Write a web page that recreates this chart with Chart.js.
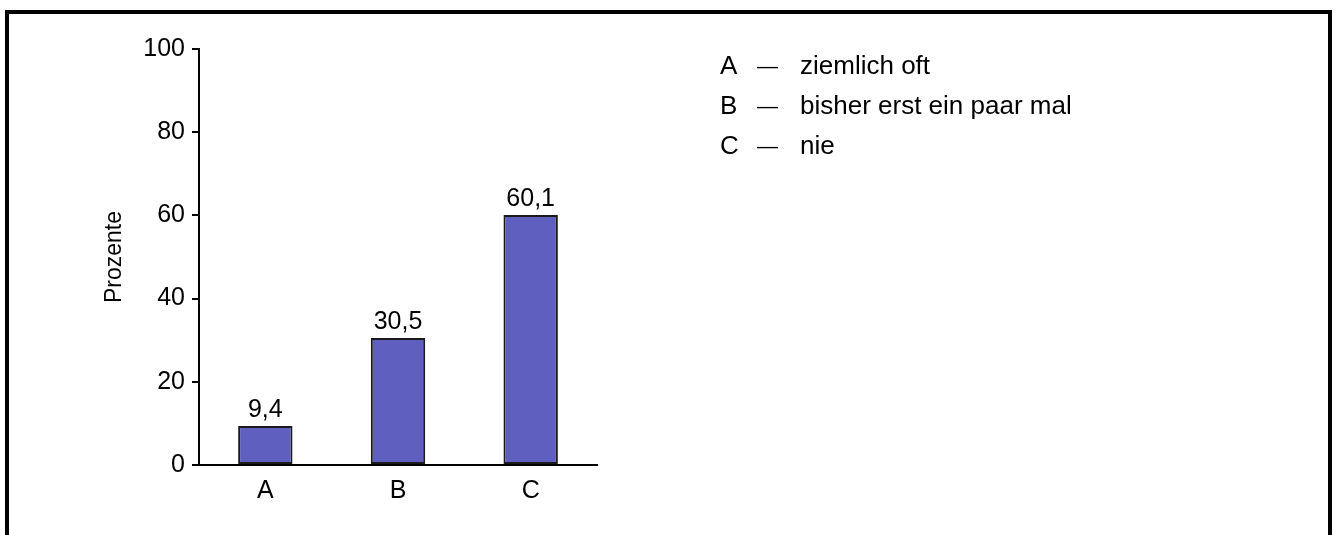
<!DOCTYPE html>
<html>
<head>
<meta charset="utf-8">
<script src="https://cdn.jsdelivr.net/npm/chart.js@4.4.1/dist/chart.umd.min.js"></script>
<style>
  html, body { margin: 0; padding: 0; background: #fff; }
  body { width: 1336px; height: 535px; position: relative; overflow: hidden; }
  #frame { position: absolute; left: 5px; top: 10px; width: 1319px; height: 540px; border: 4px solid #000; }
  #wrap { position: absolute; left: 0; top: 0; width: 1336px; height: 535px; }
</style>
</head>
<body>
<div id="frame"></div>
<div id="wrap"><canvas id="chart"></canvas></div>
<script>
const categories = ['A', 'B', 'C'];
const percentages = [9.4, 30.5, 60.1];
const legendTexts = ['ziemlich oft', 'bisher erst ein paar mal', 'nie'];
const yTicks = [0, 20, 40, 60, 80, 100];

const FONT = 'Liberation Sans, Arial, Helvetica, sans-serif';
Chart.defaults.font.family = FONT;
Chart.defaults.color = '#000';

const fmt = v => String(v).replace('.', ',');

// Werte über den Balken
const valueLabels = {
    id: 'valueLabels',
    afterDatasetsDraw(chart) {
        const ctx = chart.ctx;
        const meta = chart.getDatasetMeta(0);
        ctx.save();
        ctx.font = '25px ' + FONT;
        ctx.fillStyle = '#000';
        ctx.textAlign = 'center';
        ctx.textBaseline = 'alphabetic';
        meta.data.forEach((bar, i) => {
            ctx.fillText(fmt(percentages[i]), bar.x, bar.y - 9);
        });
        ctx.restore();
    }
};

// Legende rechts: Buchstabe — Beschreibung
const sideLegend = {
    id: 'sideLegend',
    afterDraw(chart) {
        const ctx = chart.ctx;
        ctx.save();
        ctx.fillStyle = '#000';
        ctx.textBaseline = 'alphabetic';
        categories.forEach((c, i) => {
            const y = 74 + i * 40;
            ctx.font = '26px ' + FONT;
            ctx.fillText(c, 720, y);
            ctx.fillText(legendTexts[i], 800, y);
            ctx.font = '21px ' + FONT;
            ctx.fillText('\u2014', 757, y - 1);
        });
        ctx.restore();
    }
};

new Chart(document.getElementById('chart'), {
    type: 'bar',
    data: {
        labels: categories,
        datasets: [{
            data: percentages,
            backgroundColor: '#5f5fbf',
            borderColor: '#1a1a1a',
            borderWidth: 2,
            borderSkipped: false,
            barPercentage: 0.41,
            categoryPercentage: 1
        }]
    },
    options: {
        responsive: true, maintainAspectRatio: false, animation: false,
        layout: { padding: { left: 0, top: 49, right: 739, bottom: 0 } },
        plugins: { legend: { display: false }, tooltip: { enabled: false } },
        scales: {
            x: {
                grid: { display: false, drawTicks: false },
                border: { display: true, color: '#000', width: 2 },
                ticks: { font: { size: 25 }, padding: 11 },
                afterFit: s => { s.height = 70; }
            },
            y: {
                min: 0, max: 100,
                afterBuildTicks: s => { s.ticks = yTicks.map(v => ({ value: v })); },
                grid: { drawOnChartArea: false, drawTicks: true, tickLength: 7, color: '#000', lineWidth: 2 },
                border: { display: true, color: '#000', width: 2 },
                ticks: { font: { size: 25 }, padding: 7 },
                title: { display: true, text: 'Prozente', font: { size: 23 }, padding: { top: 101, bottom: 0 } },
                afterFit: s => { s.width = 199; }
            }
        }
    },
    plugins: [valueLabels, sideLegend]
});
</script>
</body>
</html>
